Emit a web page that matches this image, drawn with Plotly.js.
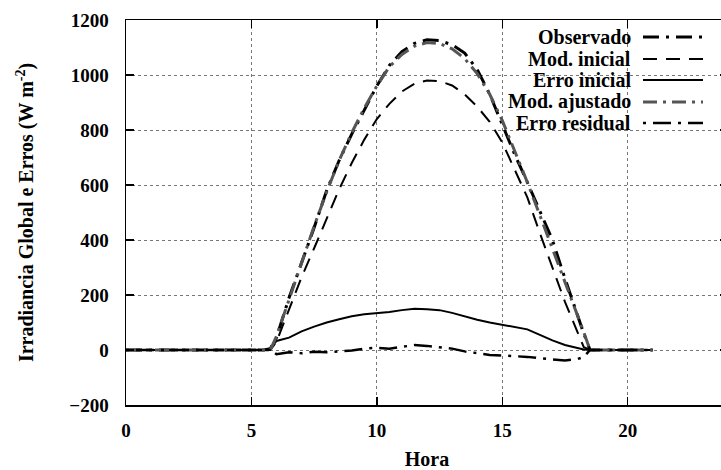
<!DOCTYPE html>
<html><head><meta charset="utf-8">
<script src="https://cdn.plot.ly/plotly-3.0.1.min.js"></script>
<style>html,body{margin:0;padding:0;overflow:hidden;background:#fff}#chart{width:728px;height:470px}</style>
</head><body><div id="chart"></div>
<script>
const hours = [0,1,2,3,4,5,5.5,5.75,6,6.5,7,7.5,8,8.5,9,9.5,10,10.5,11,11.5,12,12.5,13,13.5,14,14.5,15,15.5,16,16.5,17,17.5,18,18.25,18.5,19,20,21];
const observado = [0,0,0,0,0,0,0,5,45,190,315,445,580,690,785,875,960,1035,1085,1115,1128,1125,1110,1080,1020,930,820,710,610,505,400,260,125,60,0,0,0,0];
const modInicial = [0,0,0,0,0,0,0,0,30,145,265,370,475,585,680,765,840,895,940,968,980,978,962,930,885,830,755,655,555,425,300,175,65,10,0,0,0,0];
const erroInicial = [0,0,0,0,0,0,0,3,33,45,68,85,100,112,123,130,133,138,145,150,148,145,135,122,110,100,92,85,75,55,35,18,6,2,0,0,0,0];
const modAjustado = [0,0,0,0,0,0,0,0,50,185,320,450,575,690,790,880,960,1030,1075,1105,1118,1115,1095,1060,1005,930,835,725,610,490,370,250,130,65,0,0,0,0];
const erroResidual = [0,0,0,0,0,0,0,0,-15,-8,-12,-6,-8,-5,-2,5,8,5,12,18,15,10,5,-5,-12,-18,-20,-22,-25,-30,-35,-38,-33,-25,0,0,0,0];
const seriesNames = ['Observado','Mod. inicial','Erro inicial','Mod. ajustado','Erro residual'];
const seriesValues = [observado, modInicial, erroInicial, modAjustado, erroResidual];
const xTicks = [0,5,10,15,20];
const yTicks = [-200,0,200,400,600,800,1000,1200];

const styles = [
  {color:'#000000', width:3, dash:'16px,7px,3px,7px'},
  {color:'#000000', width:2, dash:'14px,9px'},
  {color:'#000000', width:2, dash:'solid'},
  {color:'#555555', width:3, dash:'14px,6px,3px,6px'},
  {color:'#000000', width:2.5, dash:'3px,7px,18px,7px'}
];

const traces = seriesNames.map((n,i)=>({
  x: hours, y: seriesValues[i], name: n, type:'scatter', mode:'lines',
  line: Object.assign({}, styles[i]), showlegend:false, hoverinfo:'skip'
}));

const fnt = {family:'Liberation Serif, Times New Roman, serif', size:19, color:'#000', weight:'bold'};
const toPX = px => (px-126)/602;
const toPY = py => (405-py)/385;
const rowsY = [37,59,80,102,123];

const shapes = [{type:'rect', xref:'paper', yref:'paper', x0:toPX(463), x1:toPX(712), y0:toPY(131), y1:toPY(22),
  fillcolor:'#ffffff', line:{width:0}, layer:'between'}];
const annotations = [];
seriesNames.forEach((n,i)=>{
  annotations.push({xref:'paper', yref:'paper', x:toPX(632), y:toPY(rowsY[i]), xanchor:'right', yanchor:'middle',
    text:n, showarrow:false, borderpad:0, font:Object.assign({}, fnt, {size:20})});
  shapes.push({type:'line', xref:'paper', yref:'paper', x0:toPX(643), x1:toPX(703), y0:toPY(rowsY[i]), y1:toPY(rowsY[i]),
    line:Object.assign({}, styles[i]), layer:'above'});
});

const axisCommon = {showline:true, linecolor:'#000', linewidth:1.5, ticks:'inside', ticklen:8, tickwidth:1.5, tickcolor:'#000',
  mirror:'ticks', showgrid:true, gridcolor:'#777', griddash:'dot', gridwidth:1, zeroline:false, tickfont:fnt};

const layout = {
  width:728, height:470, margin:{l:126, r:0, t:20, b:65},
  paper_bgcolor:'#fff', plot_bgcolor:'#fff', showlegend:false,
  xaxis: Object.assign({}, axisCommon, {range:[0,24], tickvals:xTicks, ticklabelstandoff:8,
    title:{text:'Hora', font:Object.assign({}, fnt, {size:20}), standoff:12}, automargin:false}),
  yaxis: Object.assign({}, axisCommon, {range:[-200,1200], tickvals:yTicks, ticklabelstandoff:12,
    title:{text:'Irradiancia Global e Erros (W m<sup>-2</sup>)', font:Object.assign({}, fnt, {size:20}), standoff:30}, automargin:false}),
  shapes: shapes, annotations: annotations
};
Plotly.newPlot('chart', traces, layout, {displayModeBar:false, staticPlot:true});
</script></body></html>
